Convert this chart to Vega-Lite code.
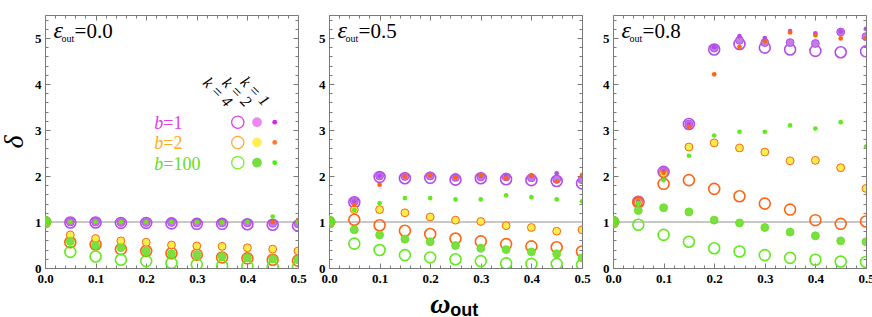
{
"$schema": "https://vega.github.io/schema/vega-lite/v6.json",
"padding": {"left": 0, "top": 13, "right": 0, "bottom": 0},
"background": "white",
"spacing": 31,
"bounds": "flush",
"config": {
  "view": {"stroke": "#7a7a7a", "strokeWidth": 1},
  "axis": {"labelFont": "Liberation Serif", "labelFontWeight": "bold", "labelFontSize": 13, "labelColor": "#000", "tickColor": "#7a7a7a", "tickWidth": 1, "grid": false, "domain": false, "titleFont": "Liberation Serif", "titleFontSize": 28, "titleFontStyle": "italic", "titleFontWeight": "normal", "titleColor": "#000"},
  "text": {"font": "Liberation Serif", "color": "#000"}
},
"datasets": {"pts": [
{"p":1,"k":4,"b":"1","w":0,"d":1},{"p":1,"k":4,"b":"1","w":0.05,"d":0.99},{"p":1,"k":4,"b":"1","w":0.1,"d":0.99},{"p":1,"k":4,"b":"1","w":0.15,"d":0.98},{"p":1,"k":4,"b":"1","w":0.2,"d":0.98},{"p":1,"k":4,"b":"1","w":0.25,"d":0.97},{"p":1,"k":4,"b":"1","w":0.3,"d":0.96},{"p":1,"k":4,"b":"1","w":0.35,"d":0.96},{"p":1,"k":4,"b":"1","w":0.4,"d":0.95},{"p":1,"k":4,"b":"1","w":0.45,"d":0.94},{"p":1,"k":4,"b":"1","w":0.5,"d":0.92},
{"p":1,"k":4,"b":"2","w":0,"d":1},{"p":1,"k":4,"b":"2","w":0.05,"d":0.56},{"p":1,"k":4,"b":"2","w":0.1,"d":0.51},{"p":1,"k":4,"b":"2","w":0.15,"d":0.41},{"p":1,"k":4,"b":"2","w":0.2,"d":0.37},{"p":1,"k":4,"b":"2","w":0.25,"d":0.32},{"p":1,"k":4,"b":"2","w":0.3,"d":0.29},{"p":1,"k":4,"b":"2","w":0.35,"d":0.23},{"p":1,"k":4,"b":"2","w":0.4,"d":0.21},{"p":1,"k":4,"b":"2","w":0.45,"d":0.18},{"p":1,"k":4,"b":"2","w":0.5,"d":0.16},
{"p":1,"k":4,"b":"100","w":0,"d":1},{"p":1,"k":4,"b":"100","w":0.05,"d":0.35},{"p":1,"k":4,"b":"100","w":0.1,"d":0.25},{"p":1,"k":4,"b":"100","w":0.15,"d":0.18},{"p":1,"k":4,"b":"100","w":0.2,"d":0.15},{"p":1,"k":4,"b":"100","w":0.25,"d":0.11},{"p":1,"k":4,"b":"100","w":0.3,"d":0.08},{"p":1,"k":4,"b":"100","w":0.35,"d":0.05},{"p":1,"k":4,"b":"100","w":0.4,"d":0.04},{"p":1,"k":4,"b":"100","w":0.45,"d":0.03},{"p":1,"k":4,"b":"100","w":0.5,"d":0.02},
{"p":1,"k":2,"b":"1","w":0,"d":1},{"p":1,"k":2,"b":"1","w":0.05,"d":1},{"p":1,"k":2,"b":"1","w":0.1,"d":1},{"p":1,"k":2,"b":"1","w":0.15,"d":0.99},{"p":1,"k":2,"b":"1","w":0.2,"d":0.99},{"p":1,"k":2,"b":"1","w":0.25,"d":0.99},{"p":1,"k":2,"b":"1","w":0.3,"d":0.98},{"p":1,"k":2,"b":"1","w":0.35,"d":0.98},{"p":1,"k":2,"b":"1","w":0.4,"d":0.98},{"p":1,"k":2,"b":"1","w":0.45,"d":0.97},{"p":1,"k":2,"b":"1","w":0.5,"d":0.96},
{"p":1,"k":2,"b":"2","w":0,"d":1},{"p":1,"k":2,"b":"2","w":0.05,"d":0.72},{"p":1,"k":2,"b":"2","w":0.1,"d":0.64},{"p":1,"k":2,"b":"2","w":0.15,"d":0.59},{"p":1,"k":2,"b":"2","w":0.2,"d":0.56},{"p":1,"k":2,"b":"2","w":0.25,"d":0.5},{"p":1,"k":2,"b":"2","w":0.3,"d":0.48},{"p":1,"k":2,"b":"2","w":0.35,"d":0.47},{"p":1,"k":2,"b":"2","w":0.4,"d":0.44},{"p":1,"k":2,"b":"2","w":0.45,"d":0.41},{"p":1,"k":2,"b":"2","w":0.5,"d":0.37},
{"p":1,"k":2,"b":"100","w":0,"d":1},{"p":1,"k":2,"b":"100","w":0.05,"d":0.58},{"p":1,"k":2,"b":"100","w":0.1,"d":0.49},{"p":1,"k":2,"b":"100","w":0.15,"d":0.44},{"p":1,"k":2,"b":"100","w":0.2,"d":0.37},{"p":1,"k":2,"b":"100","w":0.25,"d":0.31},{"p":1,"k":2,"b":"100","w":0.3,"d":0.29},{"p":1,"k":2,"b":"100","w":0.35,"d":0.25},{"p":1,"k":2,"b":"100","w":0.4,"d":0.22},{"p":1,"k":2,"b":"100","w":0.45,"d":0.2},{"p":1,"k":2,"b":"100","w":0.5,"d":0.18},
{"p":1,"k":1,"b":"1","w":0,"d":1},{"p":1,"k":1,"b":"1","w":0.05,"d":1},{"p":1,"k":1,"b":"1","w":0.1,"d":1},{"p":1,"k":1,"b":"1","w":0.15,"d":1},{"p":1,"k":1,"b":"1","w":0.2,"d":1},{"p":1,"k":1,"b":"1","w":0.25,"d":1},{"p":1,"k":1,"b":"1","w":0.3,"d":1},{"p":1,"k":1,"b":"1","w":0.35,"d":1},{"p":1,"k":1,"b":"1","w":0.4,"d":1},{"p":1,"k":1,"b":"1","w":0.45,"d":1},{"p":1,"k":1,"b":"1","w":0.5,"d":1},
{"p":1,"k":1,"b":"2","w":0,"d":1},{"p":1,"k":1,"b":"2","w":0.05,"d":1},{"p":1,"k":1,"b":"2","w":0.1,"d":1},{"p":1,"k":1,"b":"2","w":0.15,"d":1},{"p":1,"k":1,"b":"2","w":0.2,"d":1},{"p":1,"k":1,"b":"2","w":0.25,"d":1},{"p":1,"k":1,"b":"2","w":0.3,"d":1},{"p":1,"k":1,"b":"2","w":0.35,"d":1},{"p":1,"k":1,"b":"2","w":0.4,"d":1},{"p":1,"k":1,"b":"2","w":0.45,"d":1},{"p":1,"k":1,"b":"2","w":0.5,"d":1.04},
{"p":1,"k":1,"b":"100","w":0,"d":1},{"p":1,"k":1,"b":"100","w":0.05,"d":1},{"p":1,"k":1,"b":"100","w":0.1,"d":1},{"p":1,"k":1,"b":"100","w":0.15,"d":1},{"p":1,"k":1,"b":"100","w":0.2,"d":1},{"p":1,"k":1,"b":"100","w":0.25,"d":1},{"p":1,"k":1,"b":"100","w":0.3,"d":1},{"p":1,"k":1,"b":"100","w":0.35,"d":0.99},{"p":1,"k":1,"b":"100","w":0.4,"d":1},{"p":1,"k":1,"b":"100","w":0.45,"d":1.12},{"p":1,"k":1,"b":"100","w":0.5,"d":1},
{"p":2,"k":4,"b":"1","w":0,"d":1},{"p":2,"k":4,"b":"1","w":0.05,"d":1.43},{"p":2,"k":4,"b":"1","w":0.1,"d":1.98},{"p":2,"k":4,"b":"1","w":0.15,"d":1.95},{"p":2,"k":4,"b":"1","w":0.2,"d":1.96},{"p":2,"k":4,"b":"1","w":0.25,"d":1.92},{"p":2,"k":4,"b":"1","w":0.3,"d":1.95},{"p":2,"k":4,"b":"1","w":0.35,"d":1.93},{"p":2,"k":4,"b":"1","w":0.4,"d":1.91},{"p":2,"k":4,"b":"1","w":0.45,"d":1.89},{"p":2,"k":4,"b":"1","w":0.5,"d":1.84},
{"p":2,"k":4,"b":"2","w":0,"d":1},{"p":2,"k":4,"b":"2","w":0.05,"d":1.05},{"p":2,"k":4,"b":"2","w":0.1,"d":0.93},{"p":2,"k":4,"b":"2","w":0.15,"d":0.81},{"p":2,"k":4,"b":"2","w":0.2,"d":0.74},{"p":2,"k":4,"b":"2","w":0.25,"d":0.64},{"p":2,"k":4,"b":"2","w":0.3,"d":0.58},{"p":2,"k":4,"b":"2","w":0.35,"d":0.52},{"p":2,"k":4,"b":"2","w":0.4,"d":0.47},{"p":2,"k":4,"b":"2","w":0.45,"d":0.45},{"p":2,"k":4,"b":"2","w":0.5,"d":0.36},
{"p":2,"k":4,"b":"100","w":0,"d":1},{"p":2,"k":4,"b":"100","w":0.05,"d":0.53},{"p":2,"k":4,"b":"100","w":0.1,"d":0.39},{"p":2,"k":4,"b":"100","w":0.15,"d":0.28},{"p":2,"k":4,"b":"100","w":0.2,"d":0.23},{"p":2,"k":4,"b":"100","w":0.25,"d":0.19},{"p":2,"k":4,"b":"100","w":0.3,"d":0.15},{"p":2,"k":4,"b":"100","w":0.35,"d":0.1},{"p":2,"k":4,"b":"100","w":0.4,"d":0.09},{"p":2,"k":4,"b":"100","w":0.45,"d":0.09},{"p":2,"k":4,"b":"100","w":0.5,"d":0.07},
{"p":2,"k":2,"b":"1","w":0,"d":1},{"p":2,"k":2,"b":"1","w":0.05,"d":1.45},{"p":2,"k":2,"b":"1","w":0.1,"d":2},{"p":2,"k":2,"b":"1","w":0.15,"d":1.99},{"p":2,"k":2,"b":"1","w":0.2,"d":2},{"p":2,"k":2,"b":"1","w":0.25,"d":1.97},{"p":2,"k":2,"b":"1","w":0.3,"d":1.98},{"p":2,"k":2,"b":"1","w":0.35,"d":1.98},{"p":2,"k":2,"b":"1","w":0.4,"d":1.96},{"p":2,"k":2,"b":"1","w":0.45,"d":1.93},{"p":2,"k":2,"b":"1","w":0.5,"d":1.92},
{"p":2,"k":2,"b":"2","w":0,"d":1},{"p":2,"k":2,"b":"2","w":0.05,"d":1.27},{"p":2,"k":2,"b":"2","w":0.1,"d":1.27},{"p":2,"k":2,"b":"2","w":0.15,"d":1.2},{"p":2,"k":2,"b":"2","w":0.2,"d":1.11},{"p":2,"k":2,"b":"2","w":0.25,"d":1.04},{"p":2,"k":2,"b":"2","w":0.3,"d":1.01},{"p":2,"k":2,"b":"2","w":0.35,"d":0.92},{"p":2,"k":2,"b":"2","w":0.4,"d":0.88},{"p":2,"k":2,"b":"2","w":0.45,"d":0.8},{"p":2,"k":2,"b":"2","w":0.5,"d":0.83},
{"p":2,"k":2,"b":"100","w":0,"d":1},{"p":2,"k":2,"b":"100","w":0.05,"d":0.83},{"p":2,"k":2,"b":"100","w":0.1,"d":0.72},{"p":2,"k":2,"b":"100","w":0.15,"d":0.63},{"p":2,"k":2,"b":"100","w":0.2,"d":0.57},{"p":2,"k":2,"b":"100","w":0.25,"d":0.49},{"p":2,"k":2,"b":"100","w":0.3,"d":0.43},{"p":2,"k":2,"b":"100","w":0.35,"d":0.4},{"p":2,"k":2,"b":"100","w":0.4,"d":0.35},{"p":2,"k":2,"b":"100","w":0.45,"d":0.31},{"p":2,"k":2,"b":"100","w":0.5,"d":0.22},
{"p":2,"k":1,"b":"1","w":0,"d":1},{"p":2,"k":1,"b":"1","w":0.05,"d":1.45},{"p":2,"k":1,"b":"1","w":0.1,"d":2},{"p":2,"k":1,"b":"1","w":0.15,"d":2},{"p":2,"k":1,"b":"1","w":0.2,"d":2.01},{"p":2,"k":1,"b":"1","w":0.25,"d":1.99},{"p":2,"k":1,"b":"1","w":0.3,"d":2},{"p":2,"k":1,"b":"1","w":0.35,"d":2},{"p":2,"k":1,"b":"1","w":0.4,"d":2},{"p":2,"k":1,"b":"1","w":0.45,"d":2.06},{"p":2,"k":1,"b":"1","w":0.5,"d":2},
{"p":2,"k":1,"b":"2","w":0,"d":1},{"p":2,"k":1,"b":"2","w":0.05,"d":1.37},{"p":2,"k":1,"b":"2","w":0.1,"d":1.81},{"p":2,"k":1,"b":"2","w":0.15,"d":1.99},{"p":2,"k":1,"b":"2","w":0.2,"d":2.02},{"p":2,"k":1,"b":"2","w":0.25,"d":1.97},{"p":2,"k":1,"b":"2","w":0.3,"d":2.02},{"p":2,"k":1,"b":"2","w":0.35,"d":1.95},{"p":2,"k":1,"b":"2","w":0.4,"d":2.02},{"p":2,"k":1,"b":"2","w":0.45,"d":1.88},{"p":2,"k":1,"b":"2","w":0.5,"d":2.02},
{"p":2,"k":1,"b":"100","w":0,"d":1},{"p":2,"k":1,"b":"100","w":0.05,"d":1.26},{"p":2,"k":1,"b":"100","w":0.1,"d":1.41},{"p":2,"k":1,"b":"100","w":0.15,"d":1.52},{"p":2,"k":1,"b":"100","w":0.2,"d":1.52},{"p":2,"k":1,"b":"100","w":0.25,"d":1.49},{"p":2,"k":1,"b":"100","w":0.3,"d":1.49},{"p":2,"k":1,"b":"100","w":0.35,"d":1.58},{"p":2,"k":1,"b":"100","w":0.4,"d":1.54},{"p":2,"k":1,"b":"100","w":0.45,"d":1.49},{"p":2,"k":1,"b":"100","w":0.5,"d":1.45},
{"p":3,"k":4,"b":"1","w":0,"d":1},{"p":3,"k":4,"b":"1","w":0.05,"d":1.44},{"p":3,"k":4,"b":"1","w":0.1,"d":2.09},{"p":3,"k":4,"b":"1","w":0.15,"d":3.13},{"p":3,"k":4,"b":"1","w":0.2,"d":4.75},{"p":3,"k":4,"b":"1","w":0.25,"d":4.87},{"p":3,"k":4,"b":"1","w":0.3,"d":4.79},{"p":3,"k":4,"b":"1","w":0.35,"d":4.75},{"p":3,"k":4,"b":"1","w":0.4,"d":4.72},{"p":3,"k":4,"b":"1","w":0.45,"d":4.69},{"p":3,"k":4,"b":"1","w":0.5,"d":4.71},
{"p":3,"k":4,"b":"2","w":0,"d":1},{"p":3,"k":4,"b":"2","w":0.05,"d":1.43},{"p":3,"k":4,"b":"2","w":0.1,"d":1.83},{"p":3,"k":4,"b":"2","w":0.15,"d":1.91},{"p":3,"k":4,"b":"2","w":0.2,"d":1.72},{"p":3,"k":4,"b":"2","w":0.25,"d":1.56},{"p":3,"k":4,"b":"2","w":0.3,"d":1.4},{"p":3,"k":4,"b":"2","w":0.35,"d":1.27},{"p":3,"k":4,"b":"2","w":0.4,"d":1.04},{"p":3,"k":4,"b":"2","w":0.45,"d":0.96},{"p":3,"k":4,"b":"2","w":0.5,"d":1.01},
{"p":3,"k":4,"b":"100","w":0,"d":1},{"p":3,"k":4,"b":"100","w":0.05,"d":0.94},{"p":3,"k":4,"b":"100","w":0.1,"d":0.72},{"p":3,"k":4,"b":"100","w":0.15,"d":0.57},{"p":3,"k":4,"b":"100","w":0.2,"d":0.43},{"p":3,"k":4,"b":"100","w":0.25,"d":0.36},{"p":3,"k":4,"b":"100","w":0.3,"d":0.28},{"p":3,"k":4,"b":"100","w":0.35,"d":0.22},{"p":3,"k":4,"b":"100","w":0.4,"d":0.18},{"p":3,"k":4,"b":"100","w":0.45,"d":0.14},{"p":3,"k":4,"b":"100","w":0.5,"d":0.13},
{"p":3,"k":2,"b":"1","w":0,"d":1},{"p":3,"k":2,"b":"1","w":0.05,"d":1.45},{"p":3,"k":2,"b":"1","w":0.1,"d":2.1},{"p":3,"k":2,"b":"1","w":0.15,"d":3.13},{"p":3,"k":2,"b":"1","w":0.2,"d":4.78},{"p":3,"k":2,"b":"1","w":0.25,"d":4.95},{"p":3,"k":2,"b":"1","w":0.3,"d":4.9},{"p":3,"k":2,"b":"1","w":0.35,"d":4.9},{"p":3,"k":2,"b":"1","w":0.4,"d":4.88},{"p":3,"k":2,"b":"1","w":0.45,"d":5.13},{"p":3,"k":2,"b":"1","w":0.5,"d":5.03},
{"p":3,"k":2,"b":"2","w":0,"d":1},{"p":3,"k":2,"b":"2","w":0.05,"d":1.43},{"p":3,"k":2,"b":"2","w":0.1,"d":2.06},{"p":3,"k":2,"b":"2","w":0.15,"d":2.63},{"p":3,"k":2,"b":"2","w":0.2,"d":2.72},{"p":3,"k":2,"b":"2","w":0.25,"d":2.61},{"p":3,"k":2,"b":"2","w":0.3,"d":2.52},{"p":3,"k":2,"b":"2","w":0.35,"d":2.33},{"p":3,"k":2,"b":"2","w":0.4,"d":2.34},{"p":3,"k":2,"b":"2","w":0.45,"d":2.18},{"p":3,"k":2,"b":"2","w":0.5,"d":1.73},
{"p":3,"k":2,"b":"100","w":0,"d":1},{"p":3,"k":2,"b":"100","w":0.05,"d":1.25},{"p":3,"k":2,"b":"100","w":0.1,"d":1.31},{"p":3,"k":2,"b":"100","w":0.15,"d":1.22},{"p":3,"k":2,"b":"100","w":0.2,"d":1.04},{"p":3,"k":2,"b":"100","w":0.25,"d":0.98},{"p":3,"k":2,"b":"100","w":0.3,"d":0.88},{"p":3,"k":2,"b":"100","w":0.35,"d":0.78},{"p":3,"k":2,"b":"100","w":0.4,"d":0.7},{"p":3,"k":2,"b":"100","w":0.45,"d":0.59},{"p":3,"k":2,"b":"100","w":0.5,"d":0.57},
{"p":3,"k":1,"b":"1","w":0,"d":1},{"p":3,"k":1,"b":"1","w":0.05,"d":1.45},{"p":3,"k":1,"b":"1","w":0.1,"d":2.1},{"p":3,"k":1,"b":"1","w":0.15,"d":3.13},{"p":3,"k":1,"b":"1","w":0.2,"d":4.8},{"p":3,"k":1,"b":"1","w":0.25,"d":5.04},{"p":3,"k":1,"b":"1","w":0.3,"d":5},{"p":3,"k":1,"b":"1","w":0.35,"d":5.15},{"p":3,"k":1,"b":"1","w":0.4,"d":5.1},{"p":3,"k":1,"b":"1","w":0.45,"d":5.14},{"p":3,"k":1,"b":"1","w":0.5,"d":5.2},
{"p":3,"k":1,"b":"2","w":0,"d":1},{"p":3,"k":1,"b":"2","w":0.05,"d":1.42},{"p":3,"k":1,"b":"2","w":0.1,"d":2.07},{"p":3,"k":1,"b":"2","w":0.15,"d":3.07},{"p":3,"k":1,"b":"2","w":0.2,"d":4.21},{"p":3,"k":1,"b":"2","w":0.25,"d":4.81},{"p":3,"k":1,"b":"2","w":0.3,"d":4.93},{"p":3,"k":1,"b":"2","w":0.35,"d":5.12},{"p":3,"k":1,"b":"2","w":0.4,"d":5.06},{"p":3,"k":1,"b":"2","w":0.45,"d":4.99},{"p":3,"k":1,"b":"2","w":0.5,"d":4.99},
{"p":3,"k":1,"b":"100","w":0,"d":1},{"p":3,"k":1,"b":"100","w":0.05,"d":1.41},{"p":3,"k":1,"b":"100","w":0.1,"d":1.91},{"p":3,"k":1,"b":"100","w":0.15,"d":2.44},{"p":3,"k":1,"b":"100","w":0.2,"d":2.88},{"p":3,"k":1,"b":"100","w":0.25,"d":2.96},{"p":3,"k":1,"b":"100","w":0.3,"d":2.96},{"p":3,"k":1,"b":"100","w":0.35,"d":3.1},{"p":3,"k":1,"b":"100","w":0.4,"d":3.03},{"p":3,"k":1,"b":"100","w":0.45,"d":3.17},{"p":3,"k":1,"b":"100","w":0.5,"d":2.64}
]},
"hconcat": [
{
 "width": 253, "height": 253,
 "resolve": {"axis": {"x": "independent", "y": "independent"}},
 "layer": [
  {"data": {"values": [{}]}, "mark": {"type": "rule", "color": "#c8c8c8", "strokeWidth": 2}, "encoding": {"y": {"datum": 1, "type": "quantitative", "axis": null}}},
  {"data": {"name": "pts"}, "transform": [{"filter": "datum.p==1 && datum.k==4"}],
   "mark": {"type": "point", "shape": "circle", "filled": false, "size": 120, "strokeWidth": 1.6, "opacity": 1, "clip": true},
   "encoding": {
    "x": {"field": "w", "type": "quantitative", "scale": {"domain": [0, 0.5], "nice": false, "zero": false},
      "axis": {"orient": "bottom", "title": null, "values": [0,0.02,0.04,0.06,0.08,0.1,0.12,0.14,0.16,0.18,0.2,0.22,0.24,0.26,0.28,0.3,0.32,0.34,0.36,0.38,0.4,0.42,0.44,0.46,0.48,0.5], "labelExpr": "abs(datum.value*10-round(datum.value*10))<0.001 ? format(datum.value,'.1f') : ''", "tickSize": {"condition": {"test": "abs(datum.value*10-round(datum.value*10))<0.001", "value": -5}, "value": -3}, "labelPadding": 9, "labelFlush": false, "labelOverlap": false, "labelBound": false}},
    "y": {"field": "d", "type": "quantitative", "scale": {"domain": [0, 5.5], "nice": false, "zero": false},
      "axis": {"orient": "left", "title": "δ", "titlePadding": 6, "values": [0,0.2,0.4,0.6,0.8,1,1.2,1.4,1.6,1.8,2,2.2,2.4,2.6,2.8,3,3.2,3.4,3.6,3.8,4,4.2,4.4,4.6,4.8,5,5.2,5.4], "labelExpr": "abs(datum.value-round(datum.value))<0.001 ? format(datum.value,'d') : ''", "tickSize": {"condition": {"test": "abs(datum.value-round(datum.value))<0.001", "value": -5}, "value": -3}, "labelPadding": 9, "labelOverlap": false, "labelBound": false}},
    "stroke": {"field": "b", "type": "nominal", "scale": {"domain": ["1","2","100"], "range": ["#b44de8","#ff6414","#62ea1e"]}, "legend": null}}},
  {"data": {"name": "pts"}, "transform": [{"filter": "datum.p==1 && datum.k==2"}],
   "mark": {"type": "point", "shape": "circle", "filled": true, "size": 62, "strokeWidth": 1, "opacity": 1, "clip": true},
   "encoding": {
    "x": {"field": "w", "type": "quantitative", "scale": {"domain": [0, 0.5], "nice": false, "zero": false},
      "axis": {"orient": "top", "title": null, "labels": false, "values": [0,0.02,0.04,0.06,0.08,0.1,0.12,0.14,0.16,0.18,0.2,0.22,0.24,0.26,0.28,0.3,0.32,0.34,0.36,0.38,0.4,0.42,0.44,0.46,0.48,0.5], "tickSize": {"condition": {"test": "abs(datum.value*10-round(datum.value*10))<0.001", "value": -5}, "value": -3}}},
    "y": {"field": "d", "type": "quantitative", "scale": {"domain": [0, 5.5], "nice": false, "zero": false},
      "axis": {"orient": "right", "title": null, "labels": false, "values": [0,0.2,0.4,0.6,0.8,1,1.2,1.4,1.6,1.8,2,2.2,2.4,2.6,2.8,3,3.2,3.4,3.6,3.8,4,4.2,4.4,4.6,4.8,5,5.2,5.4], "tickSize": {"condition": {"test": "abs(datum.value-round(datum.value))<0.001", "value": -5}, "value": -3}}},
    "fill": {"field": "b", "type": "nominal", "scale": {"domain": ["1","2","100"], "range": ["#c47ce8","#f6ee4c","#7edc44"]}, "legend": null},
    "stroke": {"field": "b", "type": "nominal", "scale": {"domain": ["1","2","100"], "range": ["#b44de8","#ff6414","#62ea1e"]}, "legend": null}}},
  {"data": {"name": "pts"}, "transform": [{"filter": "datum.p==1 && datum.k==1"}],
   "mark": {"type": "point", "shape": "circle", "filled": true, "size": 22, "opacity": 1, "clip": true},
   "encoding": {
    "x": {"field": "w", "type": "quantitative", "axis": null},
    "y": {"field": "d", "type": "quantitative", "axis": null},
    "color": {"field": "b", "type": "nominal", "scale": {"domain": ["1","2","100"], "range": ["#b44de8","#ff6414","#62ea1e"]}, "legend": null}}},
  {"data": {"values": [{}]}, "mark": {"type": "text", "text": "ε", "fontSize": 24, "fontStyle": "italic", "align": "left", "baseline": "alphabetic"}, "encoding": {"x": {"datum": 0.017, "type": "quantitative", "axis": null}, "y": {"datum": 5.0, "type": "quantitative", "axis": null}}},
  {"data": {"values": [{}]}, "mark": {"type": "text", "text": "out", "fontSize": 10, "align": "left", "baseline": "alphabetic", "dx": 8, "dy": 4}, "encoding": {"x": {"datum": 0.017, "type": "quantitative", "axis": null}, "y": {"datum": 5.0, "type": "quantitative", "axis": null}}},
  {"data": {"values": [{}]}, "mark": {"type": "text", "text": "=0.0", "fontSize": 21, "align": "left", "baseline": "alphabetic", "dx": 21}, "encoding": {"x": {"datum": 0.017, "type": "quantitative", "axis": null}, "y": {"datum": 5.0, "type": "quantitative", "axis": null}}},
  {"data": {"values": [{}]}, "mark": {"type": "text", "text": "k = 4", "fontSize": 16, "fontStyle": "italic", "align": "center", "baseline": "middle", "angle": 45}, "encoding": {"x": {"datum": 0.341, "type": "quantitative", "axis": null}, "y": {"datum": 3.82, "type": "quantitative", "axis": null}}},
  {"data": {"values": [{}]}, "mark": {"type": "text", "text": "k = 2", "fontSize": 16, "fontStyle": "italic", "align": "center", "baseline": "middle", "angle": 45}, "encoding": {"x": {"datum": 0.379, "type": "quantitative", "axis": null}, "y": {"datum": 3.82, "type": "quantitative", "axis": null}}},
  {"data": {"values": [{}]}, "mark": {"type": "text", "text": "k = 1", "fontSize": 16, "fontStyle": "italic", "align": "center", "baseline": "middle", "angle": 45}, "encoding": {"x": {"datum": 0.415, "type": "quantitative", "axis": null}, "y": {"datum": 3.84, "type": "quantitative", "axis": null}}},
  {"data": {"values": [{}]}, "mark": {"type": "text", "text": "b", "fontSize": 18, "fontStyle": "italic", "align": "left", "baseline": "alphabetic", "color": "#e040e8"}, "encoding": {"x": {"datum": 0.216, "type": "quantitative", "axis": null}, "y": {"datum": 3.02, "type": "quantitative", "axis": null}}},
  {"data": {"values": [{}]}, "mark": {"type": "text", "text": "=1", "fontSize": 18, "align": "left", "baseline": "alphabetic", "dx": 9, "color": "#e040e8"}, "encoding": {"x": {"datum": 0.216, "type": "quantitative", "axis": null}, "y": {"datum": 3.02, "type": "quantitative", "axis": null}}},
  {"data": {"values": [{}]}, "mark": {"type": "text", "text": "b", "fontSize": 18, "fontStyle": "italic", "align": "left", "baseline": "alphabetic", "color": "#ffaa22"}, "encoding": {"x": {"datum": 0.216, "type": "quantitative", "axis": null}, "y": {"datum": 2.58, "type": "quantitative", "axis": null}}},
  {"data": {"values": [{}]}, "mark": {"type": "text", "text": "=2", "fontSize": 18, "align": "left", "baseline": "alphabetic", "dx": 9, "color": "#ffaa22"}, "encoding": {"x": {"datum": 0.216, "type": "quantitative", "axis": null}, "y": {"datum": 2.58, "type": "quantitative", "axis": null}}},
  {"data": {"values": [{}]}, "mark": {"type": "text", "text": "b", "fontSize": 18, "fontStyle": "italic", "align": "left", "baseline": "alphabetic", "color": "#66dd22"}, "encoding": {"x": {"datum": 0.216, "type": "quantitative", "axis": null}, "y": {"datum": 2.14, "type": "quantitative", "axis": null}}},
  {"data": {"values": [{}]}, "mark": {"type": "text", "text": "=100", "fontSize": 18, "align": "left", "baseline": "alphabetic", "dx": 9, "color": "#66dd22"}, "encoding": {"x": {"datum": 0.216, "type": "quantitative", "axis": null}, "y": {"datum": 2.14, "type": "quantitative", "axis": null}}},
  {"data": {"values": [{}]}, "mark": {"type": "point", "shape": "circle", "filled": false, "size": 150, "strokeWidth": 1.3, "opacity": 1, "color": "#dd44ee"}, "encoding": {"x": {"datum": 0.381, "type": "quantitative", "axis": null}, "y": {"datum": 3.17, "type": "quantitative", "axis": null}}},
  {"data": {"values": [{}]}, "mark": {"type": "point", "shape": "circle", "filled": false, "size": 150, "strokeWidth": 1.3, "opacity": 1, "color": "#ffaa33"}, "encoding": {"x": {"datum": 0.381, "type": "quantitative", "axis": null}, "y": {"datum": 2.73, "type": "quantitative", "axis": null}}},
  {"data": {"values": [{}]}, "mark": {"type": "point", "shape": "circle", "filled": false, "size": 150, "strokeWidth": 1.3, "opacity": 1, "color": "#77ee33"}, "encoding": {"x": {"datum": 0.381, "type": "quantitative", "axis": null}, "y": {"datum": 2.29, "type": "quantitative", "axis": null}}},
  {"data": {"values": [{}]}, "mark": {"type": "point", "shape": "circle", "filled": true, "size": 95, "opacity": 1, "color": "#ee88ee"}, "encoding": {"x": {"datum": 0.419, "type": "quantitative", "axis": null}, "y": {"datum": 3.17, "type": "quantitative", "axis": null}}},
  {"data": {"values": [{}]}, "mark": {"type": "point", "shape": "circle", "filled": true, "size": 95, "opacity": 1, "color": "#ffee55"}, "encoding": {"x": {"datum": 0.419, "type": "quantitative", "axis": null}, "y": {"datum": 2.73, "type": "quantitative", "axis": null}}},
  {"data": {"values": [{}]}, "mark": {"type": "point", "shape": "circle", "filled": true, "size": 95, "opacity": 1, "color": "#77dd44"}, "encoding": {"x": {"datum": 0.419, "type": "quantitative", "axis": null}, "y": {"datum": 2.29, "type": "quantitative", "axis": null}}},
  {"data": {"values": [{}]}, "mark": {"type": "point", "shape": "circle", "filled": true, "size": 23, "opacity": 1, "color": "#dd22ee"}, "encoding": {"x": {"datum": 0.454, "type": "quantitative", "axis": null}, "y": {"datum": 3.17, "type": "quantitative", "axis": null}}},
  {"data": {"values": [{}]}, "mark": {"type": "point", "shape": "circle", "filled": true, "size": 23, "opacity": 1, "color": "#ff7733"}, "encoding": {"x": {"datum": 0.454, "type": "quantitative", "axis": null}, "y": {"datum": 2.73, "type": "quantitative", "axis": null}}},
  {"data": {"values": [{}]}, "mark": {"type": "point", "shape": "circle", "filled": true, "size": 23, "opacity": 1, "color": "#44ee11"}, "encoding": {"x": {"datum": 0.454, "type": "quantitative", "axis": null}, "y": {"datum": 2.29, "type": "quantitative", "axis": null}}}
 ]
},
{
 "width": 253, "height": 253,
 "resolve": {"axis": {"x": "independent", "y": "independent"}},
 "layer": [
  {"data": {"values": [{}]}, "mark": {"type": "rule", "color": "#c8c8c8", "strokeWidth": 2}, "encoding": {"y": {"datum": 1, "type": "quantitative", "axis": null}}},
  {"data": {"name": "pts"}, "transform": [{"filter": "datum.p==2 && datum.k==4"}],
   "mark": {"type": "point", "shape": "circle", "filled": false, "size": 120, "strokeWidth": 1.6, "opacity": 1, "clip": true},
   "encoding": {
    "x": {"field": "w", "type": "quantitative", "scale": {"domain": [0, 0.5], "nice": false, "zero": false},
      "axis": {"orient": "bottom", "title": null, "values": [0,0.02,0.04,0.06,0.08,0.1,0.12,0.14,0.16,0.18,0.2,0.22,0.24,0.26,0.28,0.3,0.32,0.34,0.36,0.38,0.4,0.42,0.44,0.46,0.48,0.5], "labelExpr": "abs(datum.value*10-round(datum.value*10))<0.001 ? format(datum.value,'.1f') : ''", "tickSize": {"condition": {"test": "abs(datum.value*10-round(datum.value*10))<0.001", "value": -5}, "value": -3}, "labelPadding": 9, "labelFlush": false, "labelOverlap": false, "labelBound": false}},
    "y": {"field": "d", "type": "quantitative", "scale": {"domain": [0, 5.5], "nice": false, "zero": false},
      "axis": {"orient": "left", "title": null, "values": [0,0.2,0.4,0.6,0.8,1,1.2,1.4,1.6,1.8,2,2.2,2.4,2.6,2.8,3,3.2,3.4,3.6,3.8,4,4.2,4.4,4.6,4.8,5,5.2,5.4], "labelExpr": "abs(datum.value-round(datum.value))<0.001 ? format(datum.value,'d') : ''", "tickSize": {"condition": {"test": "abs(datum.value-round(datum.value))<0.001", "value": -5}, "value": -3}, "labelPadding": 9, "labelOverlap": false, "labelBound": false}},
    "stroke": {"field": "b", "type": "nominal", "scale": {"domain": ["1","2","100"], "range": ["#b44de8","#ff6414","#62ea1e"]}, "legend": null}}},
  {"data": {"name": "pts"}, "transform": [{"filter": "datum.p==2 && datum.k==2"}],
   "mark": {"type": "point", "shape": "circle", "filled": true, "size": 62, "strokeWidth": 1, "opacity": 1, "clip": true},
   "encoding": {
    "x": {"field": "w", "type": "quantitative", "scale": {"domain": [0, 0.5], "nice": false, "zero": false},
      "axis": {"orient": "top", "title": null, "labels": false, "values": [0,0.02,0.04,0.06,0.08,0.1,0.12,0.14,0.16,0.18,0.2,0.22,0.24,0.26,0.28,0.3,0.32,0.34,0.36,0.38,0.4,0.42,0.44,0.46,0.48,0.5], "tickSize": {"condition": {"test": "abs(datum.value*10-round(datum.value*10))<0.001", "value": -5}, "value": -3}}},
    "y": {"field": "d", "type": "quantitative", "scale": {"domain": [0, 5.5], "nice": false, "zero": false},
      "axis": {"orient": "right", "title": null, "labels": false, "values": [0,0.2,0.4,0.6,0.8,1,1.2,1.4,1.6,1.8,2,2.2,2.4,2.6,2.8,3,3.2,3.4,3.6,3.8,4,4.2,4.4,4.6,4.8,5,5.2,5.4], "tickSize": {"condition": {"test": "abs(datum.value-round(datum.value))<0.001", "value": -5}, "value": -3}}},
    "fill": {"field": "b", "type": "nominal", "scale": {"domain": ["1","2","100"], "range": ["#c47ce8","#f6ee4c","#7edc44"]}, "legend": null},
    "stroke": {"field": "b", "type": "nominal", "scale": {"domain": ["1","2","100"], "range": ["#b44de8","#ff6414","#62ea1e"]}, "legend": null}}},
  {"data": {"name": "pts"}, "transform": [{"filter": "datum.p==2 && datum.k==1"}],
   "mark": {"type": "point", "shape": "circle", "filled": true, "size": 22, "opacity": 1, "clip": true},
   "encoding": {
    "x": {"field": "w", "type": "quantitative", "axis": null},
    "y": {"field": "d", "type": "quantitative", "axis": null},
    "color": {"field": "b", "type": "nominal", "scale": {"domain": ["1","2","100"], "range": ["#b44de8","#ff6414","#62ea1e"]}, "legend": null}}},
  {"data": {"values": [{}]}, "mark": {"type": "text", "text": "ε", "fontSize": 24, "fontStyle": "italic", "align": "left", "baseline": "alphabetic"}, "encoding": {"x": {"datum": 0.017, "type": "quantitative", "axis": null}, "y": {"datum": 5.0, "type": "quantitative", "axis": null}}},
  {"data": {"values": [{}]}, "mark": {"type": "text", "text": "out", "fontSize": 10, "align": "left", "baseline": "alphabetic", "dx": 8, "dy": 4}, "encoding": {"x": {"datum": 0.017, "type": "quantitative", "axis": null}, "y": {"datum": 5.0, "type": "quantitative", "axis": null}}},
  {"data": {"values": [{}]}, "mark": {"type": "text", "text": "=0.5", "fontSize": 21, "align": "left", "baseline": "alphabetic", "dx": 21}, "encoding": {"x": {"datum": 0.017, "type": "quantitative", "axis": null}, "y": {"datum": 5.0, "type": "quantitative", "axis": null}}},
  {"data": {"values": [{}]}, "mark": {"type": "text", "text": "ω", "fontSize": 28, "fontStyle": "italic", "fontWeight": "bold", "align": "left", "baseline": "alphabetic", "dy": 45}, "encoding": {"x": {"datum": 0.2, "type": "quantitative", "axis": null}, "y": {"datum": 0, "type": "quantitative", "axis": null}}},
  {"data": {"values": [{}]}, "mark": {"type": "text", "text": "out", "font": "Liberation Sans", "fontSize": 18, "fontWeight": "bold", "align": "left", "baseline": "alphabetic", "dx": 20, "dy": 48}, "encoding": {"x": {"datum": 0.2, "type": "quantitative", "axis": null}, "y": {"datum": 0, "type": "quantitative", "axis": null}}}
 ]
},
{
 "width": 253, "height": 253,
 "resolve": {"axis": {"x": "independent", "y": "independent"}},
 "layer": [
  {"data": {"values": [{}]}, "mark": {"type": "rule", "color": "#c8c8c8", "strokeWidth": 2}, "encoding": {"y": {"datum": 1, "type": "quantitative", "axis": null}}},
  {"data": {"name": "pts"}, "transform": [{"filter": "datum.p==3 && datum.k==4"}],
   "mark": {"type": "point", "shape": "circle", "filled": false, "size": 120, "strokeWidth": 1.6, "opacity": 1, "clip": true},
   "encoding": {
    "x": {"field": "w", "type": "quantitative", "scale": {"domain": [0, 0.5], "nice": false, "zero": false},
      "axis": {"orient": "bottom", "title": null, "values": [0,0.02,0.04,0.06,0.08,0.1,0.12,0.14,0.16,0.18,0.2,0.22,0.24,0.26,0.28,0.3,0.32,0.34,0.36,0.38,0.4,0.42,0.44,0.46,0.48,0.5], "labelExpr": "abs(datum.value*10-round(datum.value*10))<0.001 ? format(datum.value,'.1f') : ''", "tickSize": {"condition": {"test": "abs(datum.value*10-round(datum.value*10))<0.001", "value": -5}, "value": -3}, "labelPadding": 9, "labelFlush": false, "labelOverlap": false, "labelBound": false}},
    "y": {"field": "d", "type": "quantitative", "scale": {"domain": [0, 5.5], "nice": false, "zero": false},
      "axis": {"orient": "left", "title": null, "values": [0,0.2,0.4,0.6,0.8,1,1.2,1.4,1.6,1.8,2,2.2,2.4,2.6,2.8,3,3.2,3.4,3.6,3.8,4,4.2,4.4,4.6,4.8,5,5.2,5.4], "labelExpr": "abs(datum.value-round(datum.value))<0.001 ? format(datum.value,'d') : ''", "tickSize": {"condition": {"test": "abs(datum.value-round(datum.value))<0.001", "value": -5}, "value": -3}, "labelPadding": 9, "labelOverlap": false, "labelBound": false}},
    "stroke": {"field": "b", "type": "nominal", "scale": {"domain": ["1","2","100"], "range": ["#b44de8","#ff6414","#62ea1e"]}, "legend": null}}},
  {"data": {"name": "pts"}, "transform": [{"filter": "datum.p==3 && datum.k==2"}],
   "mark": {"type": "point", "shape": "circle", "filled": true, "size": 62, "strokeWidth": 1, "opacity": 1, "clip": true},
   "encoding": {
    "x": {"field": "w", "type": "quantitative", "scale": {"domain": [0, 0.5], "nice": false, "zero": false},
      "axis": {"orient": "top", "title": null, "labels": false, "values": [0,0.02,0.04,0.06,0.08,0.1,0.12,0.14,0.16,0.18,0.2,0.22,0.24,0.26,0.28,0.3,0.32,0.34,0.36,0.38,0.4,0.42,0.44,0.46,0.48,0.5], "tickSize": {"condition": {"test": "abs(datum.value*10-round(datum.value*10))<0.001", "value": -5}, "value": -3}}},
    "y": {"field": "d", "type": "quantitative", "scale": {"domain": [0, 5.5], "nice": false, "zero": false},
      "axis": {"orient": "right", "title": null, "labels": false, "values": [0,0.2,0.4,0.6,0.8,1,1.2,1.4,1.6,1.8,2,2.2,2.4,2.6,2.8,3,3.2,3.4,3.6,3.8,4,4.2,4.4,4.6,4.8,5,5.2,5.4], "tickSize": {"condition": {"test": "abs(datum.value-round(datum.value))<0.001", "value": -5}, "value": -3}}},
    "fill": {"field": "b", "type": "nominal", "scale": {"domain": ["1","2","100"], "range": ["#c47ce8","#f6ee4c","#7edc44"]}, "legend": null},
    "stroke": {"field": "b", "type": "nominal", "scale": {"domain": ["1","2","100"], "range": ["#b44de8","#ff6414","#62ea1e"]}, "legend": null}}},
  {"data": {"name": "pts"}, "transform": [{"filter": "datum.p==3 && datum.k==1"}],
   "mark": {"type": "point", "shape": "circle", "filled": true, "size": 22, "opacity": 1, "clip": true},
   "encoding": {
    "x": {"field": "w", "type": "quantitative", "axis": null},
    "y": {"field": "d", "type": "quantitative", "axis": null},
    "color": {"field": "b", "type": "nominal", "scale": {"domain": ["1","2","100"], "range": ["#b44de8","#ff6414","#62ea1e"]}, "legend": null}}},
  {"data": {"values": [{}]}, "mark": {"type": "text", "text": "ε", "fontSize": 24, "fontStyle": "italic", "align": "left", "baseline": "alphabetic"}, "encoding": {"x": {"datum": 0.017, "type": "quantitative", "axis": null}, "y": {"datum": 5.0, "type": "quantitative", "axis": null}}},
  {"data": {"values": [{}]}, "mark": {"type": "text", "text": "out", "fontSize": 10, "align": "left", "baseline": "alphabetic", "dx": 8, "dy": 4}, "encoding": {"x": {"datum": 0.017, "type": "quantitative", "axis": null}, "y": {"datum": 5.0, "type": "quantitative", "axis": null}}},
  {"data": {"values": [{}]}, "mark": {"type": "text", "text": "=0.8", "fontSize": 21, "align": "left", "baseline": "alphabetic", "dx": 21}, "encoding": {"x": {"datum": 0.017, "type": "quantitative", "axis": null}, "y": {"datum": 5.0, "type": "quantitative", "axis": null}}}
 ]
}
]
}
